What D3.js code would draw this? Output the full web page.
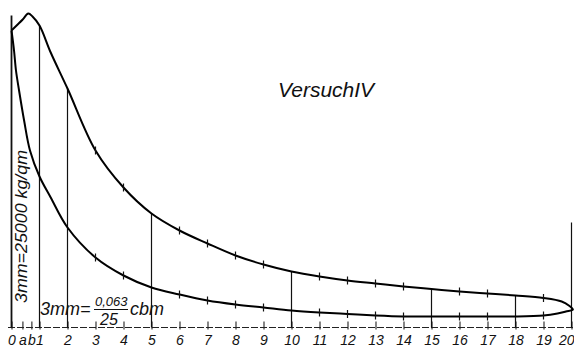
<!DOCTYPE html>
<html>
<head>
<meta charset="utf-8">
<script src="https://cdn.jsdelivr.net/npm/d3@7"></script>
<style>
  html, body { margin: 0; padding: 0; background: #fff; }
  svg { display: block; }
  text { font-family: "Liberation Sans", Arial, sans-serif; font-style: italic; fill: #111; }
</style>
</head>
<body>
<svg id="chart" width="574" height="350"></svg>
<script>
// Indicator diagram, Versuch IV: volume stroke (0..20) vs. ordinate height
const tickValues = [0, 0.39, 0.71, 1, 2, 3, 4, 5, 6, 7, 8, 9, 10, 11, 12, 13, 14, 15, 16, 17, 18, 19, 20];
const tickLabels = ["0", "a", "b", "1", "2", "3", "4", "5", "6", "7", "8", "9", "10",
                    "11", "12", "13", "14", "15", "16", "17", "18", "19", "20"];

// upper branch of the loop, left to right
const upperV = [0, 0.22, 0.4, 0.6, 0.75, 1, 1.4, 2, 3, 4, 5, 6, 7, 8, 9, 10,
                11, 12, 13, 14, 15, 16, 17, 18, 19, 19.65, 19.93, 20.05];
const upperH = [297, 303, 308, 314, 311, 302, 275, 239, 177, 140, 114, 97, 84, 72, 63, 56,
                51, 47, 44, 41, 38.5, 36, 34, 32, 29.5, 26, 21.5, 18];

// lower branch of the loop, left to right
const lowerV = [0, 0.09, 0.16, 0.27, 0.45, 0.66, 1, 1.4, 2, 3, 4, 5, 6, 7, 8, 9, 10,
                11, 12, 13, 14, 15, 16, 17, 18, 19, 19.5, 19.8];
const lowerH = [297, 277, 257, 237, 207, 177, 151, 130, 100, 70, 52, 40, 33, 27, 23, 20, 17,
                15, 13.5, 12, 11, 11, 11, 11, 11, 12, 14, 16];

// measured ordinates
const ordinateV = [0, 1, 2, 5, 10, 15, 18, 20];
const ordinateTop = [312, 302, 239, 114, 56, 38.5, 32, 105];

const svg = d3.select("#chart");
const baseY = 327.5;

const x = d3.scaleLinear().domain([0, 20]).range([11.5, 571.5]);
const y = d3.scaleLinear().domain([0, 320]).range([baseY, baseY - 320]);

// dashed abscissa
svg.append("line")
  .attr("x1", 8).attr("x2", 574)
  .attr("y1", baseY).attr("y2", baseY)
  .attr("stroke", "#222").attr("stroke-width", 1.2)
  .attr("stroke-dasharray", "7,2");

const axis = d3.axisBottom(x)
  .tickValues(tickValues)
  .tickFormat((d, i) => tickLabels[i])
  .tickSizeInner(-6)
  .tickSizeOuter(0)
  .tickPadding(7.5);

const gAxis = svg.append("g")
  .attr("transform", `translate(0,${baseY})`)
  .call(axis);
gAxis.select(".domain").remove();
gAxis.selectAll(".tick line").attr("y1", 2).attr("stroke", "#222").attr("stroke-width", 1.1);
gAxis.selectAll(".tick text")
  .attr("font-size", 14)
  .attr("font-family", "Liberation Sans, Arial, sans-serif")
  .attr("font-style", "italic")
  .attr("fill", "#111");
gAxis.selectAll(".tick text").filter((d) => d === 20)
  .attr("text-anchor", "end").attr("x", 2.5);

// ordinate lines
svg.append("g").selectAll("line")
  .data(ordinateV)
  .join("line")
  .attr("x1", d => x(d)).attr("x2", d => x(d))
  .attr("y1", baseY)
  .attr("y2", (d, i) => y(ordinateTop[i]))
  .attr("stroke", "#111")
  .attr("stroke-width", (d, i) => i === 0 ? 1.8 : 1.2);

// loop: upper branch out, lower branch back
const upper = upperV.map((v, i) => ({ v, h: upperH[i] }));
const lower = lowerV.map((v, i) => ({ v, h: lowerH[i] }));
const loop = upper.concat(lower.slice().reverse());

const line = d3.line()
  .x(d => x(d.v))
  .y(d => y(d.h))
  .curve(d3.curveCatmullRom.alpha(0.5));

svg.append("path")
  .datum(loop)
  .attr("d", line)
  .attr("fill", "none")
  .attr("stroke", "#000")
  .attr("stroke-width", 2)
  .attr("stroke-linejoin", "round");

// division marks on both branches
const marks = upper.concat(lower)
  .filter(d => Number.isInteger(d.v) && d.v >= 3 && d.v <= 19 && !ordinateV.includes(d.v));
svg.append("g").selectAll("line")
  .data(marks)
  .join("line")
  .attr("x1", d => x(d.v)).attr("x2", d => x(d.v))
  .attr("y1", d => y(d.h) - 4).attr("y2", d => y(d.h) + 4)
  .attr("stroke", "#111").attr("stroke-width", 1.2);

// title
svg.append("text")
  .attr("x", 278).attr("y", 97)
  .attr("font-size", 21)
  .text("VersuchIV");

// pressure scale
svg.append("text")
  .attr("transform", "translate(27,303) rotate(-90)")
  .attr("font-size", 16)
  .attr("textLength", 153)
  .attr("lengthAdjust", "spacingAndGlyphs")
  .text("3mm=25000 kg/qm");

// volume scale
svg.append("text").attr("x", 40).attr("y", 315).attr("font-size", 18).text("3mm=");
svg.append("text").attr("x", 95).attr("y", 306).attr("font-size", 13).text("0,063");
svg.append("line")
  .attr("x1", 94).attr("x2", 128).attr("y1", 309.5).attr("y2", 309.5)
  .attr("stroke", "#111").attr("stroke-width", 1);
svg.append("text").attr("x", 100).attr("y", 324.5).attr("font-size", 16).text("25");
svg.append("text").attr("x", 130).attr("y", 315).attr("font-size", 18).text("cbm");
</script>
</body>
</html>
